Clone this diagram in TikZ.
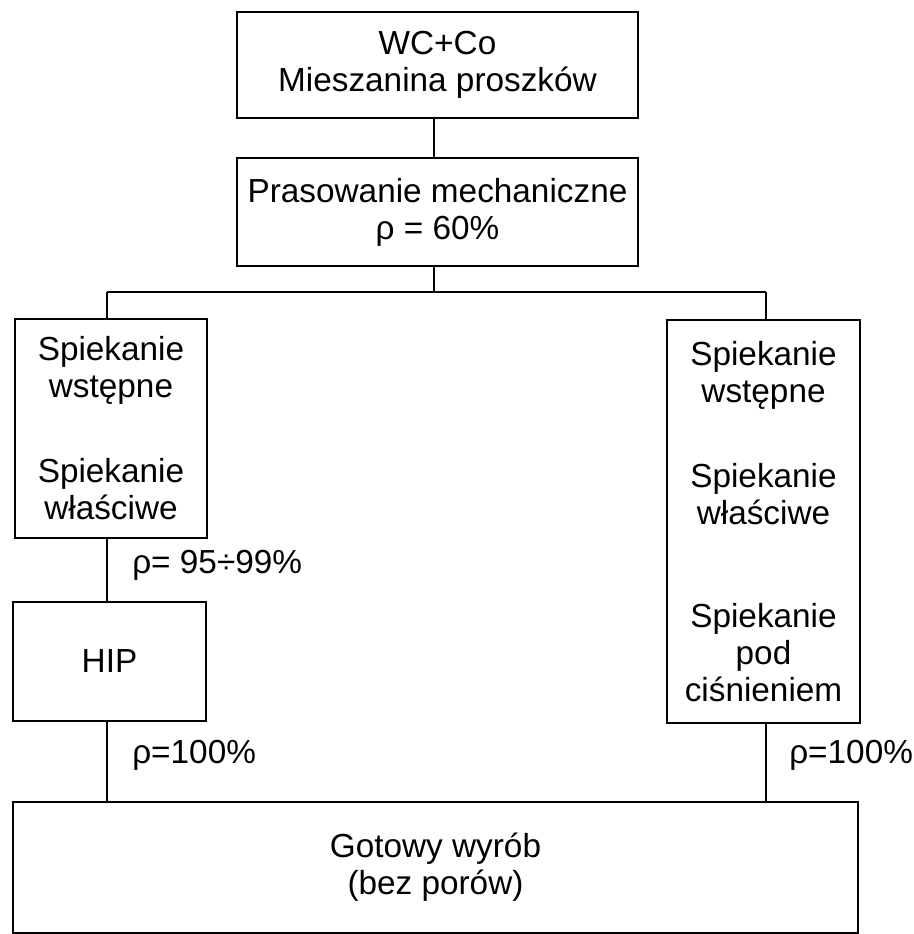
\documentclass[tikz,border=0pt]{standalone}
\usepackage{fontspec}
\setmainfont{Liberation Sans}
\begin{document}
\begin{tikzpicture}[x=0.75pt,y=-0.75pt,
  box/.style={draw, line width=1.6pt, inner sep=0pt, align=center,
    font=\fontsize{25}{27.75}\selectfont},
  conn/.style={line width=1.4pt},
  lbl/.style={inner sep=0pt, anchor=base west, font=\fontsize{25}{27.75}\selectfont}]
\useasboundingbox (0,0) rectangle (913,934);
\node[box, minimum width=300.75pt, minimum height=79.5pt] (top) at (437.5,65) {WC+Co\\Mieszanina proszków};
\node[box, minimum width=300.75pt, minimum height=81pt] (press) at (437.5,212) {Prasowanie mechaniczne\\ρ = 60\%};
\node[box, minimum width=144pt, minimum height=164.25pt] (left) at (111,428.5) {Spiekanie\\wstępne\\[36pt]Spiekanie\\właściwe};
\node[box, minimum width=144.75pt, minimum height=302.25pt] (right) at (763.5,521.5) {Spiekanie\\wstępne\\[36pt]Spiekanie\\właściwe\\[49.5pt]Spiekanie\\pod\\ciśnieniem};
\node[box, minimum width=144.75pt, minimum height=89.25pt] (hip) at (109.5,661.5) {HIP};
\node[box, minimum width=633.75pt, minimum height=98.25pt] (final) at (435.5,867.5) {Gotowy wyrób\\(bez porów)};
\coordinate (bl) at (107,292);
\coordinate (br) at (766,292);
\coordinate (bm) at (434,292);
\draw[conn] (top.south -| bm) -- (press.north -| bm);
\draw[conn] (press.south -| bm) -- (bm);
\draw[conn] (bl) -- (br);
\draw[conn] (bl) -- (bl |- left.north);
\draw[conn] (br) -- (br |- right.north);
\draw[conn] (left.south -| bl) -- (hip.north -| bl);
\draw[conn] (hip.south -| bl) -- (final.north -| bl);
\draw[conn] (right.south -| br) -- (final.north -| br);
\node[lbl] (l1) at (132,573) {ρ= 95÷99\%};
\node[lbl] (l2) at (132,763) {ρ=100\%};
\node[lbl] (l3) at (789,763) {ρ=100\%};
\end{tikzpicture}
\end{document}
